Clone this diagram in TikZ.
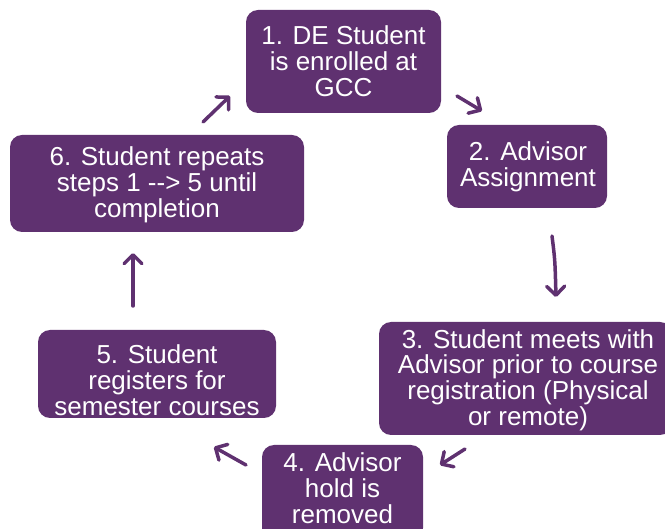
\documentclass[tikz,border=0pt]{standalone}
\usepackage{fontspec}
\setmainfont{Liberation Sans}
\usetikzlibrary{arrows.meta}
\definecolor{pur}{RGB}{95,49,112}
\tikzset{
  box/.style={fill=pur, rounded corners=12pt, text=white, align=center,
    font=\fontsize{26}{25.8}\selectfont, inner sep=0pt},
  flow/.style={draw=pur, line width=3.5pt, line cap=round,
    -{Straight Barb[length=9pt,width=18pt,line cap=round,line join=round]}}
}
\begin{document}
\begin{tikzpicture}[x=1pt,y=-1pt]
\useasboundingbox (0,0) rectangle (665,529);
\path[box] (246,10) rectangle (441,113);
\node[box] (n1) at (343.5,61) {1. DE Student\\is enrolled at\\GCC};
\path[box] (447,125) rectangle (607,208);
\node[box] (n2) at (528,167) {2. Advisor\\Assignment};
\path[box] (379,322) rectangle (672,435);
\node[box] (n3) at (528,380) {3. Student meets with\\Advisor prior to course\\registration (Physical\\or remote)};
\path[box] (262,445) rectangle (423,540);
\node[box] (n4) at (342.5,488) {4. Advisor\\hold is\\removed};
\path[box] (38,330) rectangle (276,418);
\node[box] (n5) at (157,380) {5. Student\\registers for\\semester courses};
\path[box] (10,135) rectangle (304,232);
\node[box] (n6) at (157,185) {6. Student repeats\\steps 1 -\kern0pt-\kern0pt> 5 until\\completion};
\coordinate (a1s) at (457,96); \coordinate (a1e) at (482,111);
\coordinate (a2s) at (552,236); \coordinate (a2e) at (556,297);
\coordinate (a3s) at (465,449); \coordinate (a3e) at (440,465);
\coordinate (a4s) at (246,465); \coordinate (a4e) at (214,447);
\coordinate (a5s) at (133,306); \coordinate (a5e) at (133,253);
\coordinate (a6s) at (203,122); \coordinate (a6e) at (230,96);
\draw[flow] (a1s) -- (a1e);
\draw[flow] (a2s) .. controls (555,260) .. (a2e);
\draw[flow] (a3s) -- (a3e);
\draw[flow] (a4s) -- (a4e);
\draw[flow] (a5s) -- (a5e);
\draw[flow] (a6s) -- (a6e);
\end{tikzpicture}
\end{document}
